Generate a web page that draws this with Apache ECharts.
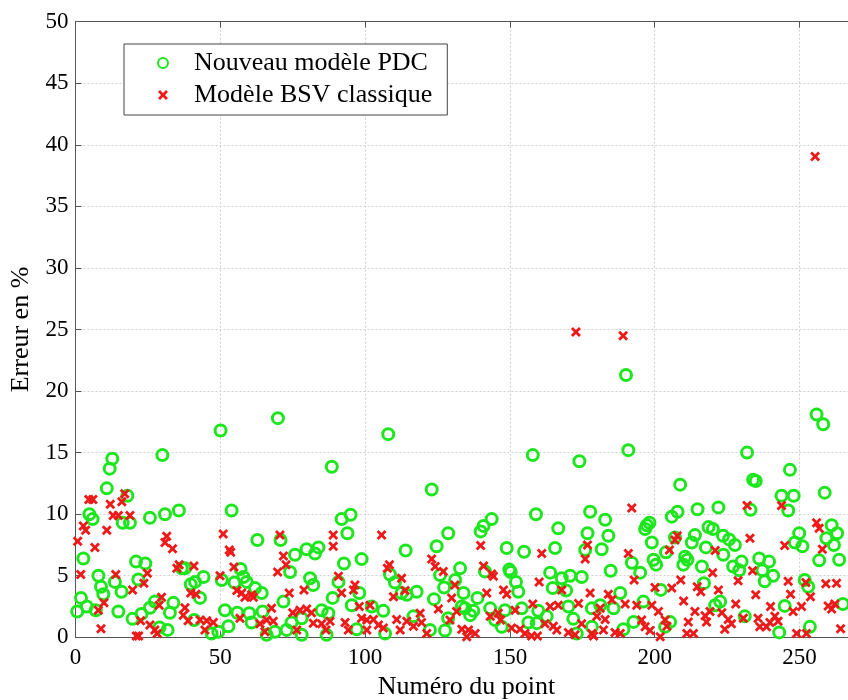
<!DOCTYPE html>
<html>
<head>
<meta charset="utf-8">
<script src="https://cdn.jsdelivr.net/npm/echarts@6/dist/echarts.min.js"></script>
<style>html,body{margin:0;padding:0;background:#fff}#c{width:848px;height:700px}</style>
</head>
<body>
<div id="c"></div>
<script>
const seriesNames = ['Nouveau modèle PDC', 'Modèle BSV classique'];
const xTicks = [0, 50, 100, 150, 200, 250];
const yTicks = [0, 5, 10, 15, 20, 25, 30, 35, 40, 45, 50];
const xTitle = 'Numéro du point';
const yTitle = 'Erreur en %';

const pdcPoints = [
[0.6,2.1],[1.9,3.2],[2.7,6.4],[3.9,2.5],[4.8,10.0],[5.9,9.6],[7.0,2.2],[7.9,5.0],[8.8,4.1],[9.6,3.5],[10.8,12.1],[11.8,13.7],[12.7,14.5],[13.6,4.5],[14.8,2.1],[15.9,3.7],[16.3,9.3],[17.9,11.5],[18.8,9.3],[19.7,1.5],[20.9,6.15],[21.7,4.7],[22.8,1.9],[24.1,6.0],[25.7,9.7],[25.7,2.4],[27.4,2.9],[29.0,0.8],[30.0,14.8],[30.9,10.0],[31.8,0.6],[32.6,2.0],[33.8,2.8],[35.7,10.3],[36.7,5.6],[37.8,5.6],[39.8,4.3],[41.0,1.4],[41.3,4.5],[43.0,3.2],
[44.2,4.9],[47.0,0.3],[49.3,0.45],[50.1,16.8],[50.5,4.65],[51.6,2.2],[52.8,0.9],[53.9,10.3],[54.9,4.45],[55.9,2.0],[57.0,5.55],[58.0,4.9],[59.1,4.5],[60.0,1.95],[60.8,1.2],[62.0,4.0],[62.8,7.9],[64.3,3.6],[64.6,2.1],[66.0,0.2],[68.9,0.45],[69.9,17.8],[70.8,7.9],[71.8,2.9],[72.9,0.6],[74.1,5.3],[74.6,1.2],[75.8,6.7],[78.1,1.55],[78.1,0.2],[79.8,7.15],[81.0,4.8],[82.1,4.25],[82.7,6.8],[83.9,7.3],[85.0,2.2],[86.7,0.2],[87.3,1.95],[88.5,13.85],[88.8,3.2],
[90.8,4.5],[91.9,9.6],[92.7,6.0],[93.9,8.45],[95.0,9.95],[95.4,2.6],[97.1,0.65],[98.0,3.6],[98.8,6.35],[102.3,2.5],[106.3,2.15],[106.9,0.3],[108.0,16.5],[108.6,5.1],[110.3,4.45],[112.6,3.6],[114.0,7.05],[114.4,3.45],[116.7,1.7],[117.8,3.7],[122.4,0.6],[123.0,12.0],[123.8,3.1],[124.7,7.4],[125.9,5.05],[127.3,4.05],[127.6,0.55],[128.7,8.45],[128.7,1.55],[131.1,4.65],[132.8,5.6],[133.4,2.5],
[134.0,3.6],[134.5,2.35],[136.3,1.8],[137.4,2.15],[138.8,3.2],[139.9,8.6],[140.9,9.05],[141.4,5.35],[143.2,2.35],[143.7,9.6],[144.9,1.4],[147.2,0.85],[148.3,2.2],[148.9,7.25],[149.8,5.5],[150.3,5.3],[152.1,4.5],[152.9,3.7],[154.1,2.35],[154.9,6.95],[156.4,1.2],[157.9,14.8],[159.0,10.0],[159.3,1.15],[159.8,2.15],[162.7,1.7],[163.9,5.25],[164.8,4.0],[165.6,7.25],[166.7,8.85],[167.9,4.8],[169.4,3.8],[170.2,2.5],[170.8,5.0],[171.9,1.5],[173.1,0.3],[174.0,14.3],[174.8,4.9],[176.0,7.1],[176.8,8.45],[177.7,10.2],[178.3,2.35],
[178.3,0.85],[181.2,2.6],[181.7,7.15],[182.9,9.55],[184.0,8.25],[184.8,5.4],[185.8,2.35],[188.1,3.6],[189.2,0.65],[190.1,21.3],[190.9,15.2],[192.1,6.05],[192.7,1.25],[195.0,5.25],[196.1,2.9],[196.7,8.8],[197.3,9.1],[198.2,9.3],[199.0,7.7],[199.6,6.3],[200.5,5.9],[202.1,3.85],[203.6,0.85],[203.9,6.9],[205.3,1.25],[205.9,9.8],[207.0,8.1],[207.9,10.2],[208.8,12.4],[209.9,5.9],[210.5,6.55],[211.3,6.3],[212.8,7.7],[213.9,8.3],[214.8,10.4],[216.3,5.75],[217.0,4.4],[217.7,7.3],[218.6,8.95],[220.1,8.8],[220.9,2.6],[222.0,10.55],[222.6,2.9],[223.6,8.25],
[223.7,6.7],[225.7,7.95],[227.1,5.75],[227.7,7.5],[229.2,5.45],[230.0,6.15],[231.1,1.7],[231.9,15.0],[233.1,10.35],[234.0,12.8],[234.9,12.7],[236.1,6.4],[237.2,5.45],[238.0,4.55],[239.5,6.15],[240.9,5.0],[243.0,0.4],[243.8,11.5],[244.9,2.55],[246.1,10.3],[246.7,13.6],[248.0,11.5],[248.4,7.7],[249.9,8.45],[251.0,7.4],[251.8,4.65],[253.0,4.1],[253.6,0.85],[255.9,18.1],[256.8,6.25],[258.2,17.3],[258.7,11.75],[259.3,8.05],[261.1,9.1],[261.9,7.5],[263.0,8.45],[263.7,6.3],[265.0,2.7]
];

const bsvPoints = [
[0.75,7.8],[1.8,5.1],[2.7,9.05],[3.5,8.7],[4.6,11.2],[6.0,11.2],[6.7,7.3],[7.9,2.2],[8.8,0.7],[9.8,2.8],[10.8,8.7],[12.0,10.8],[13.0,9.9],[13.9,5.1],[14.8,9.9],[16.0,11.0],[17.0,11.65],[18.8,9.9],[19.7,3.85],[21.0,0.1],[21.8,0.1],[22.5,1.35],[23.6,4.4],[24.8,5.2],[25.7,1.0],[27.4,0.6],[28.2,0.3],[28.9,2.6],[29.7,3.25],[30.9,7.7],[31.5,8.2],[33.5,7.2],[35.0,5.6],[35.8,5.9],[37.2,1.8],[37.8,2.4],[38.9,1.35],[39.8,3.6],[40.9,5.8],[41.6,3.5],[43.0,1.4],
[44.7,0.6],[45.3,1.35],[47.6,1.2],[49.9,5.0],[51.0,8.4],[53.1,7.1],[53.6,6.9],[54.7,5.7],[55.7,3.8],[56.8,1.55],[57.4,3.6],[58.5,3.25],[60.8,3.45],[61.4,3.25],[63.7,1.1],[65.4,0.45],[66.0,1.4],[67.7,2.35],[68.3,1.3],[69.8,5.3],[70.6,8.3],[71.8,6.6],[72.7,5.9],[73.8,3.6],[75.0,2.0],[76.4,0.6],[77.5,2.2],[78.9,3.85],[79.8,2.3],[81.5,2.0],[82.1,1.15],[85.0,1.1],[86.5,0.6],[89.0,8.3],[89.0,7.4],
[87.9,1.3],[90.8,4.95],[91.9,3.6],[93.1,1.2],[94.2,0.6],[96.0,3.85],[96.5,4.25],[98.0,2.5],[98.8,1.55],[100.6,1.4],[100.6,0.6],[101.7,2.6],[102.9,1.45],[104.6,1.0],[105.7,8.3],[106.3,0.75],[107.7,5.6],[108.4,5.9],[109.8,3.3],[110.9,1.45],[112.1,0.6],[112.6,4.8],[113.8,3.8],[114.4,1.3],[116.7,0.9],[119.0,1.95],[119.5,1.2],[121.3,0.3],[123.0,6.35],[124.2,5.75],[125.3,2.3],[127.0,5.35],[129.3,1.4],[129.9,3.2],[131.0,4.25],[131.6,2.1],[133.4,0.65],
[135.1,0.05],[135.7,0.6],[138.0,0.3],[139.9,7.45],[140.9,5.8],[142.0,3.6],[143.2,1.7],[143.7,5.15],[144.3,4.95],[146.0,1.95],[146.8,1.4],[147.8,3.85],[148.9,3.5],[150.6,0.75],[151.8,2.2],[153.5,0.65],[155.2,0.3],[157.5,0.1],[157.9,2.7],[159.5,0.1],[160.1,4.5],[161.0,6.8],[162.1,1.1],[163.9,2.5],[165.0,0.9],[166.2,0.6],[166.7,2.6],[167.9,3.85],[170.2,0.4],[172.5,0.2],[172.8,24.8],[173.7,2.75],[174.8,1.1],[176.0,6.35],[176.8,7.5],[177.7,3.6],[178.3,0.3],
[178.9,0.1],[180.0,1.7],[181.2,2.35],[182.3,0.6],[182.9,1.45],[184.0,3.5],[185.2,3.05],[186.3,0.4],[188.1,0.3],[189.1,24.5],[189.8,2.7],[190.9,6.8],[192.1,10.5],[192.9,4.65],[193.8,2.6],[195.5,1.4],[196.7,0.85],[198.4,0.55],[199.0,2.6],[200.1,4.05],[201.3,2.1],[201.9,0.05],[203.6,1.4],[204.2,0.9],[205.1,7.1],[205.9,4.0],[207.0,7.9],[207.8,8.25],[209.0,4.65],[210.0,2.95],[211.1,0.3],[211.6,1.25],[213.4,0.3],[213.9,2.1],[214.7,4.1],[215.9,3.7],[217.4,1.75],[217.9,1.25],[219.1,2.1],[220.0,5.25],[220.9,7.05],[222.0,3.85],[223.2,2.0],
[224.2,0.65],[225.4,1.45],[226.5,1.1],[228.0,2.7],[228.8,4.6],[230.6,1.55],[231.9,10.7],[232.9,8.05],[233.8,5.4],[234.9,3.45],[235.7,1.55],[236.3,0.85],[238.6,0.85],[239.8,1.2],[240.0,2.5],[241.5,1.7],[242.6,1.3],[243.8,10.7],[244.9,7.45],[246.1,4.55],[246.9,3.5],[247.8,2.1],[249.0,0.3],[250.7,2.5],[252.2,4.45],[252.4,0.3],[253.8,3.3],[255.4,39.05],[255.9,9.3],[256.8,8.85],[257.9,7.15],[259.1,4.35],[259.9,2.55],[261.1,2.3],[262.2,2.7],[262.8,4.4],[264.2,0.7]
];

const FONT = '"Liberation Serif", "DejaVu Serif", serif';
const GREEN = '#1ee61e';
const RED = '#ee1a1a';
const crossPath = 'path://M0,2 L2,0 L5,3 L8,0 L10,2 L7,5 L10,8 L8,10 L5,7 L2,10 L0,8 L3,5 Z';

const chart = echarts.init(document.getElementById('c'), null, {renderer: 'canvas'});
const axisCommon = {
  axisLine: {show: true, lineStyle: {color: '#555', width: 1}},
  axisTick: {show: true, inside: true, length: 6, lineStyle: {color: '#555'}},
  splitLine: {show: true, lineStyle: {color: '#d0d0d0', type: [2, 2], width: 1}}
};
chart.setOption({
  animation: false,
  backgroundColor: '#fff',
  grid: {left: 75.5, top: 21.7, width: 781.9, bottom: 62.7, containLabel: false, outerBoundsMode: 'none', show: false},
  legend: {
    orient: 'vertical', left: 124, top: 44,
    backgroundColor: '#fff',
    borderColor: '#444', borderWidth: 1,
    padding: [6, 15, 7, 33],
    itemWidth: 10, itemHeight: 10, itemGap: 6,
    textStyle: {fontFamily: FONT, fontSize: 26, color: '#000', padding: [0, 0, 0, 21]},
    data: seriesNames
  },
  xAxis: [
    Object.assign({
      type: 'value', min: 0, max: 270, interval: 50,
      name: xTitle, nameLocation: 'middle', nameGap: 37,
      nameTextStyle: {fontFamily: FONT, fontSize: 26, color: '#000'},
      axisLabel: {fontFamily: FONT, fontSize: 23, color: '#000', margin: 9,
        formatter: v => xTicks.indexOf(v) >= 0 ? String(v) : ''}
    }, axisCommon),
    Object.assign({
      type: 'value', min: 0, max: 270, interval: 50, position: 'top',
      axisLabel: {show: false}
    }, axisCommon, {splitLine: {show: false}})
  ],
  yAxis: Object.assign({
    type: 'value', min: 0, max: 50, interval: 5,
    name: yTitle, nameLocation: 'middle', nameGap: 40, nameRotate: 90,
    nameTextStyle: {fontFamily: FONT, fontSize: 26, color: '#000'},
    axisLabel: {fontFamily: FONT, fontSize: 23, color: '#000', margin: 7,
      formatter: v => yTicks.indexOf(v) >= 0 ? String(v) : ''}
  }, axisCommon),
  series: [
    {
      name: seriesNames[0], type: 'scatter', xAxisIndex: 0,
      symbol: 'circle', symbolSize: 11,
      itemStyle: {color: 'rgba(255,255,255,0)', borderColor: GREEN, borderWidth: 3, opacity: 1},
      data: pdcPoints
    },
    {
      name: seriesNames[1], type: 'scatter', xAxisIndex: 0,
      symbol: crossPath, symbolSize: 10,
      itemStyle: {color: RED, opacity: 1},
      data: bsvPoints
    }
  ]
});
</script>
</body>
</html>
